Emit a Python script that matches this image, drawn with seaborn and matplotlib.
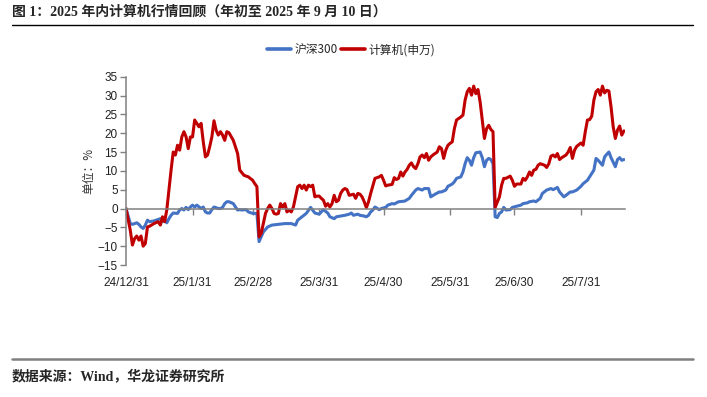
import pandas as pd
import matplotlib
matplotlib.use('Agg')
import matplotlib.pyplot as plt
import seaborn as sns
from matplotlib.lines import Line2D

# 沪深300 累计涨跌幅(%)
hs300_dates = [
    '24/12/31', '25/1/2', '25/1/3', '25/1/5', '25/1/6', '25/1/7', '25/1/8', '25/1/9', '25/1/10', '25/1/11',
    '25/1/13', '25/1/14', '25/1/16', '25/1/17', '25/1/18', '25/1/19', '25/1/20', '25/1/21', '25/1/22', '25/1/24',
    '25/1/25', '25/1/26', '25/1/27', '25/1/28', '25/1/29', '25/1/30', '25/1/31',
    '25/2/1', '25/2/2', '25/2/4', '25/2/5', '25/2/6', '25/2/7', '25/2/8', '25/2/9', '25/2/10', '25/2/12',
    '25/2/13', '25/2/14', '25/2/15', '25/2/16', '25/2/17', '25/2/19', '25/2/20', '25/2/21', '25/2/22', '25/2/23',
    '25/2/25', '25/2/26', '25/2/28',
    '25/3/2', '25/3/3', '25/3/4', '25/3/5', '25/3/7', '25/3/9', '25/3/12', '25/3/15', '25/3/18', '25/3/20',
    '25/3/21', '25/3/23', '25/3/25', '25/3/27', '25/3/29', '25/3/31',
    '25/4/1', '25/4/2', '25/4/4', '25/4/5', '25/4/7', '25/4/8', '25/4/10', '25/4/12', '25/4/14', '25/4/15',
    '25/4/16', '25/4/18', '25/4/19', '25/4/21', '25/4/22', '25/4/23', '25/4/24', '25/4/25', '25/4/26', '25/4/28',
    '25/4/29',
    '25/5/1', '25/5/2', '25/5/4', '25/5/5', '25/5/7', '25/5/9', '25/5/10', '25/5/12', '25/5/13', '25/5/15',
    '25/5/16', '25/5/18', '25/5/19', '25/5/21', '25/5/22', '25/5/24', '25/5/26', '25/5/27', '25/5/29', '25/5/30',
    '25/6/1', '25/6/2', '25/6/3', '25/6/5', '25/6/6', '25/6/7', '25/6/8', '25/6/9', '25/6/10', '25/6/11',
    '25/6/12', '25/6/14', '25/6/15', '25/6/16', '25/6/17', '25/6/18', '25/6/19', '25/6/20', '25/6/21', '25/6/22',
    '25/6/23', '25/6/24', '25/6/25', '25/6/26', '25/6/28', '25/6/29',
    '25/7/1', '25/7/3', '25/7/4', '25/7/6', '25/7/7', '25/7/9', '25/7/10', '25/7/12', '25/7/13', '25/7/15',
    '25/7/17', '25/7/18', '25/7/20', '25/7/21', '25/7/23', '25/7/24', '25/7/26', '25/7/27', '25/7/29', '25/7/31',
    '25/8/1', '25/8/3', '25/8/4', '25/8/6', '25/8/7', '25/8/8', '25/8/10', '25/8/11', '25/8/12', '25/8/13',
    '25/8/14', '25/8/16', '25/8/17', '25/8/18', '25/8/19', '25/8/20',
]
hs300_vals = [
    0, -4.0, -4.2, -3.8, -4.2, -4.9, -5.3, -4.4, -3.1, -3.5,
    -3.3, -3.1, -2.7, -3.5, -2.9, -3.8, -2.7, -1.8, -1.2, -1.3,
    -0.4, 0.0, -0.4, 0.3, -0.3, 0.4, 0.9,
    0.4, 0.9, 0.0, 0.4, -0.9, -1.2, -1.2, -0.3, 0.4, 0.0,
    0.0, 0.3, 1.3, 1.8, 1.8, 1.3, 0.4, -0.4, -0.3, -0.4,
    -0.3, -0.9, -1.3,
    -1.3, -8.8, -7.5, -6.2, -4.9, -4.4, -4.2, -4.0, -4.0, -4.4,
    -3.1, -2.2, -1.3, 0.3, -1.2, -1.5,
    -0.9, -0.3, -1.2, -2.2, -2.7, -2.2, -2.0, -1.8, -1.5, -1.2,
    -1.8, -1.5, -1.8, -2.0, -2.2, -1.8, -0.9, -0.4, 0.4, -0.3,
    0.0,
    0.3, 0.9, 1.3, 1.2, 1.8, 1.9, 2.0, 2.7, 3.5, 4.9,
    5.3, 4.9, 5.3, 5.3, 3.1, 3.8, 4.4, 4.4, 4.9, 5.9,
    6.5, 7.1, 8.0, 8.4, 9.7, 11.9, 13.5, 12.8, 11.5, 13.5,
    14.8, 15.0, 13.5, 11.1, 12.8, 13.3, 13.0, 11.9, -2.2, -2.4,
    -1.3, -0.9, 0.3, -0.4, -0.3, 0.3,
    0.6, 0.9, 1.3, 1.5, 1.8, 2.0, 1.8, 2.7, 4.0, 4.9,
    5.3, 5.0, 5.6, 4.4, 3.1, 3.5, 4.4, 4.4, 4.9, 5.9,
    6.6, 7.5, 8.4, 10.2, 13.3, 12.8, 11.5, 13.7, 14.4, 15.0,
    13.5, 11.1, 13.0, 13.5, 12.8, 13.0,
]

# 计算机(申万) 累计涨跌幅(%)
sw_dates = [
    '24/12/31', '25/1/2', '25/1/3', '25/1/4', '25/1/5', '25/1/6', '25/1/7', '25/1/8', '25/1/9', '25/1/10',
    '25/1/11', '25/1/13', '25/1/15', '25/1/16', '25/1/17', '25/1/18', '25/1/19', '25/1/20', '25/1/21', '25/1/22',
    '25/1/23', '25/1/24', '25/1/25', '25/1/26', '25/1/27', '25/1/28', '25/1/29', '25/1/30', '25/1/31',
    '25/2/1', '25/2/2', '25/2/3', '25/2/4', '25/2/5', '25/2/6', '25/2/7', '25/2/8', '25/2/9', '25/2/10',
    '25/2/11', '25/2/12', '25/2/13', '25/2/14', '25/2/15', '25/2/16', '25/2/17', '25/2/19', '25/2/21', '25/2/22',
    '25/2/24', '25/2/26', '25/2/28',
    '25/3/1', '25/3/2', '25/3/3', '25/3/4', '25/3/5', '25/3/6', '25/3/7', '25/3/8', '25/3/9', '25/3/10',
    '25/3/11', '25/3/12', '25/3/13', '25/3/14', '25/3/15', '25/3/16', '25/3/17', '25/3/18', '25/3/19', '25/3/21',
    '25/3/22', '25/3/23', '25/3/24', '25/3/25', '25/3/26', '25/3/27', '25/3/28', '25/3/29', '25/3/30', '25/3/31',
    '25/4/1', '25/4/2', '25/4/3', '25/4/4', '25/4/5', '25/4/6', '25/4/7', '25/4/8', '25/4/9', '25/4/10',
    '25/4/11', '25/4/12', '25/4/13', '25/4/14', '25/4/16', '25/4/17', '25/4/18', '25/4/19', '25/4/20', '25/4/21',
    '25/4/22', '25/4/23', '25/4/24', '25/4/26', '25/4/27', '25/4/28', '25/4/29', '25/4/30',
    '25/5/1', '25/5/2', '25/5/4', '25/5/5', '25/5/6', '25/5/7', '25/5/8', '25/5/9', '25/5/10', '25/5/11',
    '25/5/12', '25/5/13', '25/5/14', '25/5/15', '25/5/16', '25/5/17', '25/5/18', '25/5/19', '25/5/20', '25/5/21',
    '25/5/22', '25/5/23', '25/5/25', '25/5/26', '25/5/27', '25/5/28', '25/5/29', '25/5/30', '25/5/31',
    '25/6/1', '25/6/2', '25/6/3', '25/6/4', '25/6/5', '25/6/6', '25/6/7', '25/6/8', '25/6/9', '25/6/10',
    '25/6/11', '25/6/12', '25/6/13', '25/6/14', '25/6/15', '25/6/16', '25/6/17', '25/6/18', '25/6/19', '25/6/20',
    '25/6/21', '25/6/23', '25/6/24', '25/6/25', '25/6/26', '25/6/28', '25/6/29', '25/6/30',
    '25/7/1', '25/7/3', '25/7/4', '25/7/5', '25/7/6', '25/7/7', '25/7/8', '25/7/9', '25/7/10', '25/7/11',
    '25/7/12', '25/7/14', '25/7/15', '25/7/16', '25/7/17', '25/7/18', '25/7/19', '25/7/20', '25/7/21', '25/7/22',
    '25/7/24', '25/7/25', '25/7/26', '25/7/27', '25/7/28', '25/7/29', '25/7/31',
    '25/8/1', '25/8/2', '25/8/3', '25/8/4', '25/8/5', '25/8/6', '25/8/7', '25/8/8', '25/8/9', '25/8/10',
    '25/8/11', '25/8/12', '25/8/13', '25/8/14', '25/8/15', '25/8/16', '25/8/17', '25/8/18', '25/8/19', '25/8/20',
]
sw_vals = [
    0, -5.8, -9.7, -8.0, -7.3, -8.4, -7.3, -10.0, -9.3, -4.9,
    -4.7, -4.0, -3.5, -4.4, -2.2, -3.5, -0.4, 4.9, 10.2, 15.0,
    14.2, 16.8, 15.5, 19.0, 20.4, 19.0, 15.9, 19.0, 19.0,
    23.5, 22.6, 21.7, 22.6, 17.7, 13.7, 14.2, 16.4, 19.0, 23.3,
    20.8, 19.5, 20.4, 19.5, 18.1, 20.4, 20.1, 18.1, 14.6, 10.2,
    8.8, 8.4, 7.5,
    6.6, 5.8, -7.5, -6.6, -4.0, -1.3, 0.0, 0.9, 0.0, -1.3,
    -1.5, -1.3, 1.3, 0.4, 1.3, -0.9, -0.4, -0.9, 0.4, 5.8,
    6.2, 5.3, 6.2, 4.9, 6.2, 5.8, 6.2, 3.1, 3.3, 3.3,
    2.7, 2.2, 0.6, 1.3, 0.4, 1.3, 3.5, 1.8, 2.2, 4.0,
    4.9, 5.3, 5.0, 3.5, 3.8, 2.7, 4.0, 3.8, 3.1, 1.8,
    0.2, 1.8, 4.0, 8.0, 8.2, 8.4, 8.8, 7.5,
    6.0, 6.2, 6.4, 8.2, 7.7, 8.0, 9.7, 8.6, 9.7, 10.4,
    11.5, 12.1, 11.1, 10.6, 11.9, 13.7, 14.2, 13.5, 14.6, 12.8,
    13.7, 14.2, 15.0, 16.4, 15.9, 13.3, 15.5, 16.8, 17.3,
    17.7, 21.2, 23.5, 23.9, 24.3, 24.8, 28.8, 31.0, 31.9, 30.1,
    32.5, 30.5, 31.6, 28.3, 23.5, 18.6, 21.2, 22.1, 21.0, 20.4,
    0.3, 3.1, 6.2, 8.0, 8.0, 8.6, 7.5, 5.9,
    6.5, 6.5, 8.0, 7.5, 8.4, 9.7, 8.8, 10.2, 10.4, 11.5,
    11.9, 11.5, 10.9, 11.9, 13.9, 14.2, 13.7, 14.6, 13.0, 13.5,
    14.2, 15.0, 16.2, 13.3, 15.5, 16.5, 17.4,
    16.8, 20.4, 23.5, 23.6, 24.5, 28.8, 31.0, 31.6, 30.1, 32.5,
    30.7, 31.4, 31.2, 27.0, 21.7, 18.6, 20.8, 21.9, 19.5, 20.6,
]

series_names = ['沪深300', '计算机(申万)']
series_colors = ['#4472C4', '#C00000']
tick_labels = ['24/12/31', '25/1/31', '25/2/28', '25/3/31', '25/4/30', '25/5/31', '25/6/30', '25/7/31']
y_ticks = [-15, -10, -5, 0, 5, 10, 15, 20, 25, 30, 35]

title = '图 1：2025 年内计算机行情回顾（年初至 2025 年 9 月 10 日）'
source = '数据来源：Wind，华龙证券研究所'

sns.set_theme(style='white')
plt.rcParams['font.family'] = ['Liberation Sans', 'Noto Sans CJK SC']
serif_cjk = ['Liberation Serif', 'Noto Sans CJK SC']

df = pd.concat([
    pd.DataFrame({'date': pd.to_datetime(hs300_dates, format='%y/%m/%d'),
                  'value': hs300_vals, 'series': series_names[0]}),
    pd.DataFrame({'date': pd.to_datetime(sw_dates, format='%y/%m/%d'),
                  'value': sw_vals, 'series': series_names[1]}),
], ignore_index=True)

W, H = 707, 397
fig = plt.figure(figsize=(W / 100, H / 100), dpi=100)
ax = fig.add_axes([126 / W, 1 - 265 / H, (625 - 126) / W, (265 - 76.7) / H])

sns.lineplot(data=df, x='date', y='value', hue='series', hue_order=series_names,
             palette=dict(zip(series_names, series_colors)), linewidth=2.2, ax=ax)

ax.set_xlim(pd.Timestamp('2024-12-31'), pd.Timestamp('2025-08-20 12:00'))
ax.set_ylim(-15, 35)
ax.set_yticks(y_ticks)
ax.set_xticks(pd.to_datetime(tick_labels, format='%y/%m/%d'))
ax.set_xticklabels(tick_labels)

for s in ['top', 'right']:
    ax.spines[s].set_visible(False)
ax.spines['bottom'].set_position(('data', 0))
for s in ['bottom', 'left']:
    ax.spines[s].set_color('#808080')
    ax.spines[s].set_linewidth(1.1)

ax.tick_params(axis='x', bottom=True, direction='out', length=4, width=1, color='#808080',
               pad=45, labelsize=8.5, labelcolor='#222222')
ax.tick_params(axis='y', left=True, direction='out', length=4, width=1, color='#808080',
               pad=2, labelsize=8.5, labelcolor='#222222')

ax.set_xlabel('')
ax.set_ylabel('单位：%', fontsize=8.5, color='#333333', family=['Noto Sans CJK SC'])
ax.yaxis.set_label_coords(-0.062, 0.5)

handles, labels = ax.get_legend_handles_labels()
leg = ax.legend(handles, labels, loc='center', bbox_to_anchor=(0.497, 1 - 50 / H),
                bbox_transform=fig.transFigure, ncol=2, frameon=False, fontsize=8.5,
                handlelength=2.0, handletextpad=0.3, columnspacing=0.3)
for line in leg.get_lines():
    line.set_linewidth(2.6)
for t in leg.get_texts():
    t.set_family(['Noto Sans CJK SC'])

fig.text(12 / W, 1 - 12 / H, title, fontsize=10, fontweight='bold', va='center', ha='left',
         family=serif_cjk)
fig.add_artist(Line2D([12 / W, 693 / W], [1 - 25 / H, 1 - 25 / H], color='black', lw=1.0))
fig.add_artist(Line2D([12 / W, 693 / W], [1 - 359 / H, 1 - 359 / H], color='#808080', lw=1.8))
fig.text(12 / W, 1 - 377 / H, source, fontsize=10, fontweight='bold', va='center', ha='left',
         family=serif_cjk)

fig.savefig('out.png', dpi=100)
